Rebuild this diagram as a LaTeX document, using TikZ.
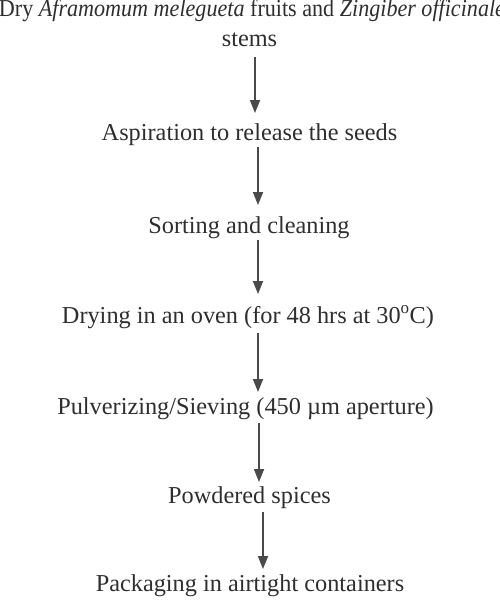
\documentclass[tikz,border=0pt]{standalone}
\usepackage{fontspec}
\setmainfont{Liberation Serif}
\usetikzlibrary{arrows.meta}
\definecolor{txt}{HTML}{2E2E2E}
\definecolor{arr}{HTML}{4A4A4A}
\tikzset{
  lbl/.style={anchor=base, inner sep=0pt, text=txt, font=\fontsize{24.3}{29}\selectfont},
  flow/.style={draw=arr, line width=1.8pt, -{Triangle[length=13pt,width=10pt]}}
}
\begin{document}
\begin{tikzpicture}[x=1pt,y=-1pt]
\useasboundingbox (0,0) rectangle (500,602);
\node[lbl] (t1) at (252,17) {\scalebox{0.91}[1]{Dry \textit{Aframomum melegueta} fruits and \textit{Zingiber officinale}}};
\node[lbl] (t2) at (249.5,47) {stems};
\node[lbl] (s1) at (249.5,140) {Aspiration to release the seeds};
\node[lbl] (s2) at (249,233) {Sorting and cleaning};
\node[lbl] (s3) at (248,323) {Drying in an oven (for 48 hrs at 30\textsuperscript{o}C)};
\node[lbl] (s4) at (245.5,414) {Pulverizing/Sieving (450 µm aperture)};
\node[lbl] (s5) at (249.5,503) {Powdered spices};
\node[lbl] (s6) at (250,591) {Packaging in airtight containers};
\coordinate (a1s) at (255,57); \coordinate (a1e) at (255,113);
\coordinate (a2s) at (258,147); \coordinate (a2e) at (258,205);
\coordinate (a3s) at (258,240); \coordinate (a3e) at (258,294);
\coordinate (a4s) at (258,333); \coordinate (a4e) at (258,392);
\coordinate (a5s) at (259,423); \coordinate (a5e) at (259,482);
\coordinate (a6s) at (263,512); \coordinate (a6e) at (263,569);
\draw[flow] (a1s) -- (a1e);
\draw[flow] (a2s) -- (a2e);
\draw[flow] (a3s) -- (a3e);
\draw[flow] (a4s) -- (a4e);
\draw[flow] (a5s) -- (a5e);
\draw[flow] (a6s) -- (a6e);
\end{tikzpicture}
\end{document}
